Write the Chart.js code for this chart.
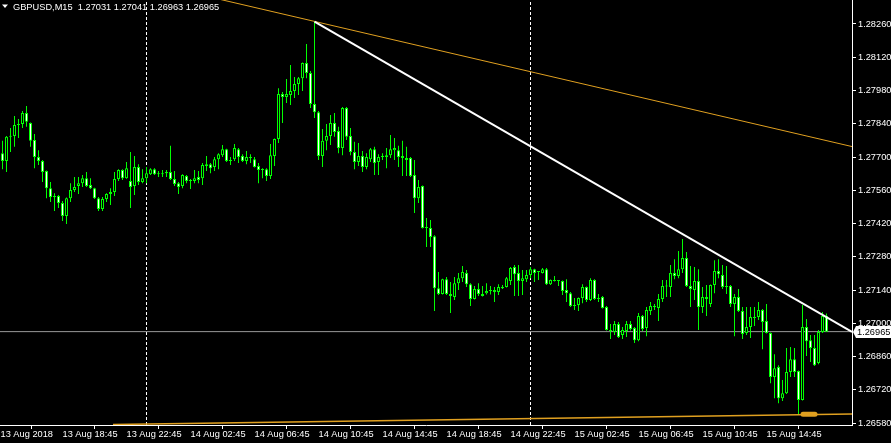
<!DOCTYPE html>
<html>
<head>
<meta charset="utf-8">
<script src="https://cdn.jsdelivr.net/npm/chart.js@4.4.1/dist/chart.umd.min.js"></script>
<style>
html, body { margin: 0; padding: 0; background: #000; }
#wrap { width: 891px; height: 443px; }
</style>
</head>
<body>
<div id="wrap"><canvas id="gbpusd_chart" width="891" height="443"></canvas></div>
<script>
// GBPUSD M15, 13 Aug 15:00 -> 15 Aug 18:30, one entry per bar
const opens = [
  1.27716, 1.27683, 1.27785, 1.27789, 1.27835, 1.27839, 1.27885, 1.27843, 1.27772, 1.27700,
  1.27683, 1.27641, 1.27569, 1.27532, 1.27536, 1.27506, 1.27452, 1.27527, 1.27561, 1.27578,
  1.27590, 1.27611, 1.27582, 1.27569, 1.27527, 1.27481, 1.27523, 1.27544, 1.27553, 1.27607,
  1.27645, 1.27611, 1.27599, 1.27578, 1.27658, 1.27595, 1.27611, 1.27628, 1.27649, 1.27628,
  1.27632, 1.27632, 1.27637, 1.27607, 1.27590, 1.27578, 1.27620, 1.27603, 1.27599, 1.27616,
  1.27611, 1.27662, 1.27670, 1.27658, 1.27691, 1.27708, 1.27733, 1.27683, 1.27691, 1.27733,
  1.27704, 1.27683, 1.27700, 1.27691, 1.27662, 1.27645, 1.27649, 1.27620, 1.27704, 1.27776,
  1.27965, 1.27953, 1.27961, 1.27978, 1.28007, 1.28032, 1.28096, 1.28054, 1.27923, 1.27889,
  1.27704, 1.27768, 1.27789, 1.27843, 1.27810, 1.27738, 1.27906, 1.27789, 1.27721, 1.27679,
  1.27704, 1.27658, 1.27691, 1.27733, 1.27679, 1.27700, 1.27700, 1.27708, 1.27729, 1.27729,
  1.27704, 1.27696, 1.27696, 1.27624, 1.27527, 1.27578, 1.27401, 1.27401, 1.27367, 1.27148,
  1.27123, 1.27186, 1.27123, 1.27111, 1.27169, 1.27190, 1.27212, 1.27165, 1.27102, 1.27144,
  1.27123, 1.27127, 1.27136, 1.27140, 1.27132, 1.27153, 1.27153, 1.27178, 1.27237, 1.27212,
  1.27178, 1.27186, 1.27203, 1.27228, 1.27216, 1.27212, 1.27228, 1.27165, 1.27182, 1.27178,
  1.27178, 1.27140, 1.27127, 1.27073, 1.27077, 1.27107, 1.27153, 1.27098, 1.27182, 1.27102,
  1.27111, 1.27069, 1.26972, 1.26964, 1.26997, 1.26951, 1.26968, 1.26997, 1.26980, 1.26929,
  1.27031, 1.26980, 1.27052, 1.27069, 1.27064, 1.27102, 1.27157, 1.27153, 1.27212, 1.27199,
  1.27228, 1.27275, 1.27157, 1.27140, 1.27178, 1.27069, 1.27111, 1.27081, 1.27161, 1.27220,
  1.27203, 1.27157, 1.27157, 1.27081, 1.27111, 1.27052, 1.26959, 1.26985, 1.27027, 1.27027,
  1.27056, 1.27010, 1.26959, 1.26774, 1.26816, 1.26685, 1.26706, 1.26795, 1.26849, 1.26799,
  1.26677, 1.26985, 1.26929, 1.26896, 1.26833, 1.26964, 1.27031
];
const highs = [
  1.27768, 1.27789, 1.27822, 1.27873, 1.27860, 1.27894, 1.27915, 1.27845, 1.27797, 1.27729,
  1.27687, 1.27643, 1.27595, 1.27548, 1.27540, 1.27515, 1.27530, 1.27590, 1.27616, 1.27616,
  1.27624, 1.27637, 1.27611, 1.27571, 1.27532, 1.27532, 1.27548, 1.27569, 1.27637, 1.27649,
  1.27649, 1.27679, 1.27721, 1.27704, 1.27670, 1.27649, 1.27658, 1.27653, 1.27653, 1.27641,
  1.27645, 1.27645, 1.27747, 1.27641, 1.27595, 1.27628, 1.27624, 1.27607, 1.27645, 1.27641,
  1.27675, 1.27704, 1.27675, 1.27700, 1.27716, 1.27751, 1.27735, 1.27700, 1.27755, 1.27738,
  1.27712, 1.27725, 1.27712, 1.27700, 1.27675, 1.27653, 1.27653, 1.27755, 1.27778, 1.27990,
  1.27974, 1.28028, 1.28087, 1.28037, 1.28037, 1.28098, 1.28176, 1.28062, 1.28268, 1.27894,
  1.27818, 1.27839, 1.27877, 1.27885, 1.27827, 1.27911, 1.27911, 1.27822, 1.27764, 1.27759,
  1.27725, 1.27716, 1.27738, 1.27743, 1.27712, 1.27716, 1.27738, 1.27793, 1.27780, 1.27747,
  1.27768, 1.27743, 1.27700, 1.27687, 1.27603, 1.27580, 1.27443, 1.27435, 1.27371, 1.27216,
  1.27188, 1.27195, 1.27174, 1.27195, 1.27212, 1.27241, 1.27224, 1.27169, 1.27157, 1.27169,
  1.27157, 1.27169, 1.27157, 1.27153, 1.27165, 1.27161, 1.27195, 1.27237, 1.27245, 1.27245,
  1.27224, 1.27224, 1.27237, 1.27230, 1.27220, 1.27233, 1.27233, 1.27184, 1.27199, 1.27182,
  1.27180, 1.27186, 1.27132, 1.27107, 1.27109, 1.27165, 1.27155, 1.27190, 1.27186, 1.27123,
  1.27115, 1.27073, 1.26997, 1.27010, 1.27006, 1.26985, 1.27010, 1.27010, 1.26985, 1.27043,
  1.27035, 1.27069, 1.27090, 1.27081, 1.27123, 1.27182, 1.27182, 1.27245, 1.27270, 1.27304,
  1.27355, 1.27300, 1.27241, 1.27237, 1.27228, 1.27153, 1.27161, 1.27163, 1.27266, 1.27270,
  1.27245, 1.27241, 1.27161, 1.27123, 1.27144, 1.27069, 1.27069, 1.27069, 1.27069, 1.27090,
  1.27060, 1.27081, 1.26961, 1.26870, 1.26824, 1.26761, 1.26896, 1.26900, 1.26896, 1.26801,
  1.27077, 1.27018, 1.26951, 1.26951, 1.26972, 1.27048, 1.27041
];
const lows = [
  1.27649, 1.27637, 1.27721, 1.27743, 1.27780, 1.27822, 1.27827, 1.27743, 1.27653, 1.27666,
  1.27595, 1.27527, 1.27511, 1.27473, 1.27485, 1.27431, 1.27418, 1.27511, 1.27553, 1.27544,
  1.27574, 1.27574, 1.27565, 1.27523, 1.27473, 1.27473, 1.27511, 1.27498, 1.27536, 1.27599,
  1.27603, 1.27609, 1.27485, 1.27540, 1.27582, 1.27590, 1.27590, 1.27624, 1.27624, 1.27616,
  1.27616, 1.27616, 1.27603, 1.27578, 1.27544, 1.27569, 1.27590, 1.27565, 1.27590, 1.27590,
  1.27582, 1.27641, 1.27632, 1.27641, 1.27649, 1.27700, 1.27679, 1.27666, 1.27683, 1.27675,
  1.27679, 1.27670, 1.27675, 1.27656, 1.27590, 1.27611, 1.27599, 1.27607, 1.27662, 1.27759,
  1.27843, 1.27927, 1.27919, 1.27948, 1.27961, 1.27978, 1.28032, 1.27906, 1.27864, 1.27687,
  1.27658, 1.27729, 1.27751, 1.27785, 1.27716, 1.27708, 1.27772, 1.27708, 1.27649, 1.27662,
  1.27637, 1.27649, 1.27679, 1.27624, 1.27624, 1.27687, 1.27653, 1.27696, 1.27687, 1.27658,
  1.27620, 1.27620, 1.27616, 1.27464, 1.27506, 1.27399, 1.27321, 1.27321, 1.27052, 1.27119,
  1.27121, 1.27119, 1.27043, 1.27098, 1.27140, 1.27174, 1.27153, 1.27073, 1.27100, 1.27115,
  1.27113, 1.27121, 1.27121, 1.27090, 1.27119, 1.27144, 1.27151, 1.27161, 1.27115, 1.27115,
  1.27119, 1.27174, 1.27190, 1.27174, 1.27182, 1.27210, 1.27161, 1.27161, 1.27176, 1.27157,
  1.27119, 1.27090, 1.27069, 1.27056, 1.27052, 1.27085, 1.27090, 1.27094, 1.27098, 1.27090,
  1.27062, 1.26970, 1.26934, 1.26951, 1.26938, 1.26934, 1.26942, 1.26970, 1.26917, 1.26925,
  1.26968, 1.26946, 1.27035, 1.27056, 1.27010, 1.27090, 1.27111, 1.27111, 1.27186, 1.27190,
  1.27212, 1.27153, 1.27069, 1.27098, 1.26972, 1.27043, 1.27031, 1.27069, 1.27127, 1.27190,
  1.27144, 1.27123, 1.27069, 1.26946, 1.27048, 1.26934, 1.26951, 1.26938, 1.26989, 1.27014,
  1.26891, 1.26957, 1.26748, 1.26685, 1.26664, 1.26673, 1.26702, 1.26774, 1.26774, 1.26614,
  1.26675, 1.26862, 1.26837, 1.26820, 1.26828, 1.26959, 1.26963
];
const closes = [
  1.27683, 1.27785, 1.27789, 1.27835, 1.27839, 1.27885, 1.27848, 1.27768, 1.27700, 1.27683,
  1.27637, 1.27569, 1.27532, 1.27536, 1.27506, 1.27452, 1.27527, 1.27561, 1.27574, 1.27590,
  1.27611, 1.27578, 1.27569, 1.27527, 1.27481, 1.27523, 1.27544, 1.27553, 1.27607, 1.27645,
  1.27611, 1.27653, 1.27574, 1.27658, 1.27595, 1.27611, 1.27632, 1.27649, 1.27628, 1.27632,
  1.27628, 1.27637, 1.27607, 1.27586, 1.27574, 1.27624, 1.27599, 1.27599, 1.27611, 1.27603,
  1.27666, 1.27670, 1.27653, 1.27691, 1.27712, 1.27733, 1.27683, 1.27687, 1.27738, 1.27700,
  1.27683, 1.27700, 1.27696, 1.27658, 1.27645, 1.27649, 1.27620, 1.27708, 1.27776, 1.27965,
  1.27953, 1.27965, 1.27978, 1.28007, 1.28032, 1.28096, 1.28054, 1.27923, 1.27889, 1.27704,
  1.27768, 1.27789, 1.27843, 1.27805, 1.27738, 1.27906, 1.27785, 1.27721, 1.27679, 1.27704,
  1.27658, 1.27700, 1.27733, 1.27675, 1.27700, 1.27704, 1.27708, 1.27733, 1.27738, 1.27700,
  1.27696, 1.27687, 1.27620, 1.27527, 1.27574, 1.27401, 1.27405, 1.27363, 1.27148, 1.27123,
  1.27186, 1.27123, 1.27115, 1.27169, 1.27190, 1.27216, 1.27165, 1.27102, 1.27144, 1.27123,
  1.27115, 1.27136, 1.27140, 1.27132, 1.27153, 1.27148, 1.27190, 1.27233, 1.27207, 1.27178,
  1.27190, 1.27203, 1.27228, 1.27212, 1.27218, 1.27228, 1.27165, 1.27182, 1.27178, 1.27180,
  1.27136, 1.27127, 1.27073, 1.27077, 1.27107, 1.27153, 1.27098, 1.27182, 1.27102, 1.27107,
  1.27064, 1.26972, 1.26968, 1.26997, 1.26942, 1.26972, 1.26997, 1.26976, 1.26929, 1.27031,
  1.26976, 1.27056, 1.27073, 1.27073, 1.27102, 1.27157, 1.27155, 1.27212, 1.27199, 1.27228,
  1.27275, 1.27157, 1.27144, 1.27178, 1.27069, 1.27111, 1.27102, 1.27161, 1.27220, 1.27207,
  1.27153, 1.27153, 1.27081, 1.27111, 1.27052, 1.26955, 1.26985, 1.27027, 1.27022, 1.27056,
  1.27006, 1.26959, 1.26774, 1.26811, 1.26685, 1.26706, 1.26795, 1.26849, 1.26795, 1.26677,
  1.26985, 1.26925, 1.26896, 1.26824, 1.26964, 1.27031, 1.26965
];

const symbolName = 'GBPUSD,M15';
const xTickBars = [-0.5, 15, 31, 47, 63, 79, 95, 111, 127, 143, 159, 175, 191];
const xTickLabels = ['13 Aug 2018', '13 Aug 18:45', '13 Aug 22:45', '14 Aug 02:45', '14 Aug 06:45',
  '14 Aug 10:45', '14 Aug 14:45', '14 Aug 18:45', '14 Aug 22:45', '15 Aug 02:45',
  '15 Aug 06:45', '15 Aug 10:45', '15 Aug 14:45'];
const yTicks = [1.26580, 1.26720, 1.26860, 1.27000, 1.27140, 1.27280, 1.27420,
  1.27560, 1.27700, 1.27840, 1.27980, 1.28120, 1.28260];
const daySeparators = [36, 132];

// drawn objects, as [bar index, price] end points
const whiteTrend = [[78, 1.28270], [212.375, 1.26964]];
const orangeTrendTop = [[40, 1.28420], [212.375, 1.27744]];
const orangeTrendLow = [[27.625, 1.26574], [212.375, 1.26618]];
const orangeMarker = [[200.125, 1.26617], [203.125, 1.26617]];

const yMin = 1.26572, yMax = 1.28361;
const xMin = -0.625, xMax = 212.375;

const lime = '#00ff00';
const gold = '#e0a020';
const axisFont = { family: 'Tahoma, "Liberation Sans", Arial, sans-serif', size: 9.25 };

const wickData = opens.map((o, i) => ({ x: i, y: [lows[i], highs[i]] }));
const bodyData = opens.map((o, i) => ({ x: i, y: [o, closes[i]] }));
const bodyFill = opens.map((o, i) => closes[i] < o ? '#ffffff' : '#000000');
const toPts = arr => arr.map(p => ({ x: p[0], y: p[1] }));

function lineSet(points, color, width, extra) {
    return Object.assign({
        type: 'line',
        data: points,
        borderColor: color,
        borderWidth: width,
        pointRadius: 0,
        fill: false,
        tension: 0,
        order: 0
    }, extra || {});
}

const lastClose = closes[closes.length - 1];
const n = closes.length - 1;

const mt4Overlay = {
    id: 'mt4Overlay',
    afterDraw(chart) {
        const c = chart.ctx;
        const area = chart.chartArea;
        c.save();
        // header
        c.fillStyle = '#ffffff';
        c.beginPath();
        c.moveTo(2, 4.5); c.lineTo(8, 4.5); c.lineTo(5, 8);
        c.closePath(); c.fill();
        c.font = axisFont.size + 'px ' + axisFont.family;
        c.textBaseline = 'middle';
        c.textAlign = 'left';
        const head = symbolName + '  ' + [opens[n], highs[n], lows[n], closes[n]].map(v => v.toFixed(5)).join(' ');
        c.fillText(head, 13, 7);
        // current price tag
        const py = Math.round(chart.scales.y.getPixelForValue(lastClose));
        c.fillStyle = '#ffffff';
        c.beginPath();
        c.moveTo(area.right + 1, py);
        c.lineTo(area.right + 4, py - 6);
        c.lineTo(chart.width, py - 6);
        c.lineTo(chart.width, py + 6);
        c.lineTo(area.right + 4, py + 6);
        c.closePath(); c.fill();
        c.fillStyle = '#000000';
        c.fillText(lastClose.toFixed(5), area.right + 5, py + 0.5);
        c.restore();
    }
};

const ctx = document.getElementById('gbpusd_chart').getContext('2d');

const gbpusd_chart = new Chart(ctx, {
    type: 'bar',
    data: {
        datasets: [
            lineSet(toPts(whiteTrend), '#ffffff', 2),
            lineSet(toPts(orangeTrendTop), gold, 1),
            lineSet(toPts(orangeTrendLow), gold, 1.5),
            lineSet(toPts(orangeMarker), gold, 5, { borderCapStyle: 'round' }),
            lineSet([{ x: xMin, y: lastClose }, { x: xMax, y: lastClose }], '#9a9a9a', 1, { order: 3 }),
            lineSet([{ x: daySeparators[0], y: yMin }, { x: daySeparators[0], y: yMax }], '#ffffff', 1, { borderDash: [3, 2], order: 4 }),
            lineSet([{ x: daySeparators[1], y: yMin }, { x: daySeparators[1], y: yMax }], '#ffffff', 1, { borderDash: [3, 2], order: 4 }),
            {
                type: 'bar',
                data: bodyData,
                backgroundColor: bodyFill,
                borderColor: lime,
                borderWidth: 1,
                borderSkipped: false,
                barThickness: 3,
                minBarLength: 1,
                inflateAmount: 0,
                grouped: false,
                order: 1
            },
            {
                type: 'bar',
                data: wickData,
                backgroundColor: lime,
                borderWidth: 0,
                barThickness: 1,
                inflateAmount: 0,
                grouped: false,
                order: 2
            }
        ]
    },
    options: {
        responsive: false,
        animation: false,
        devicePixelRatio: 1,
        events: [],
        layout: { padding: 0 },
        plugins: { legend: { display: false }, tooltip: { enabled: false } },
        scales: {
            x: {
                type: 'linear',
                min: xMin,
                max: xMax,
                offset: false,
                afterBuildTicks: s => { s.ticks = xTickBars.map(v => ({ value: v })); },
                afterFit: s => { s.height = 18; s.paddingLeft = 0; s.paddingRight = 0; },
                grid: { drawOnChartArea: false, drawTicks: true, tickLength: 4, color: '#ffffff' },
                border: { display: true, color: '#ffffff' },
                ticks: {
                    color: '#ffffff',
                    font: axisFont,
                    align: 'start',
                    padding: 0,
                    maxRotation: 0,
                    autoSkip: false,
                    callback: v => xTickLabels[xTickBars.indexOf(v)]
                }
            },
            y: {
                position: 'right',
                min: yMin,
                max: yMax,
                afterBuildTicks: s => { s.ticks = yTicks.map(v => ({ value: v })); },
                afterFit: s => { s.width = 39; s.paddingTop = 0; s.paddingBottom = 0; },
                grid: { drawOnChartArea: false, drawTicks: true, tickLength: 4, color: '#ffffff' },
                border: { display: true, color: '#ffffff' },
                ticks: {
                    color: '#ffffff',
                    font: axisFont,
                    padding: 2,
                    callback: v => v.toFixed(5)
                }
            }
        }
    },
    plugins: [mt4Overlay]
});
</script>
</body>
</html>
